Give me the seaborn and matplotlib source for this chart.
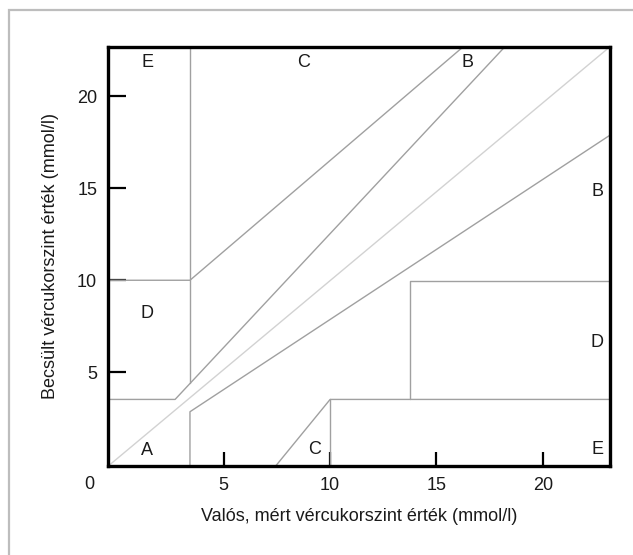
import numpy as np
import pandas as pd
import matplotlib
matplotlib.use("Agg")
import matplotlib.pyplot as plt
from matplotlib.patches import Rectangle
import seaborn as sns

# Zone boundaries (mmol/l)
upper_b_x = [-0.43, 2.71, 18.22]
upper_b_y = [3.51, 3.51, 22.69]
upper_c_x = [-0.43, 3.41, 16.26]
upper_c_y = [9.99, 9.99, 22.69]
left_vert_x = [3.41, 3.41]
left_vert_y = [4.40, 22.69]
lower_b_x = [3.41, 3.41, 23.16]
lower_b_y = [-0.11, 2.84, 17.88]
lower_c_x = [7.44, 10.0, 23.16]
lower_c_y = [-0.11, 3.51, 3.51]
mid_vert_x = [10.0, 10.0]
mid_vert_y = [-0.11, 3.51]
lower_d_x = [13.76, 13.76, 23.16]
lower_d_y = [3.51, 9.96, 9.96]
ident_x = [-0.43, 23.16]
ident_y = [-0.11, 22.69]

zone_labels = ["E", "C", "B", "B", "D", "D", "A", "C", "E"]
zone_label_x = [1.4, 8.74, 16.44, 22.55, 1.4, 22.55, 1.4, 9.26, 22.55]
zone_label_y = [21.85, 21.85, 21.85, 14.8, 8.2, 6.6, 0.75, 0.8, 0.8]

ticks = [5, 10, 15, 20]
x_label = "Valós, mért vércukorszint érték (mmol/l)"
y_label = "Becsült vércukorszint érték (mmol/l)"

segments = [
    (upper_b_x, upper_b_y), (upper_c_x, upper_c_y), (left_vert_x, left_vert_y),
    (lower_b_x, lower_b_y), (lower_c_x, lower_c_y), (mid_vert_x, mid_vert_y),
    (lower_d_x, lower_d_y),
]
rows = []
for i, (xs, ys) in enumerate(segments):
    for j, (x, y) in enumerate(zip(xs, ys)):
        rows.append({"x": x, "y": y, "seg": i, "order": j})
df = pd.DataFrame(rows)
df_ident = pd.DataFrame({"x": ident_x, "y": ident_y, "seg": 0})

sns.set_theme(style="white")
plt.rcParams["font.family"] = ["Liberation Sans", "DejaVu Sans"]

fig = plt.figure(figsize=(6.33, 5.55), dpi=100)
ax = fig.add_axes([108.3 / 633, 1 - 466 / 555, (610 - 108.3) / 633, (466 - 46.7) / 555])

sns.lineplot(data=df_ident, x="x", y="y", units="seg", estimator=None, sort=False,
             color="#d2d2d2", linewidth=1.0, ax=ax)
sns.lineplot(data=df, x="x", y="y", units="seg", estimator=None, sort=False,
             color="#a0a0a0", linewidth=1.0, ax=ax)

for lab, lx, ly in zip(zone_labels, zone_label_x, zone_label_y):
    ax.text(lx, ly, lab, ha="center", va="center", fontsize=13, color="#1a1a1a")

ax.set_xlim(ident_x[0], ident_x[1])
ax.set_ylim(ident_y[0], ident_y[1])
ax.set_xticks(ticks)
ax.set_yticks(ticks)
ax.set_xticklabels([str(t) for t in ticks])
ax.set_yticklabels([str(t) for t in ticks])
ax.tick_params(axis="x", direction="in", length=10, width=1.6, color="black",
               labelsize=13, pad=8, labelcolor="#1a1a1a", bottom=True)
ax.tick_params(axis="y", direction="in", length=13, width=1.6, color="black",
               labelsize=13, pad=8, labelcolor="#1a1a1a", left=True)
ax.set_xlabel(x_label, fontsize=13, color="#1a1a1a", labelpad=10)
ax.set_ylabel(y_label, fontsize=13, color="#1a1a1a", labelpad=13)
for sp in ax.spines.values():
    sp.set_visible(True)
    sp.set_color("black")
    sp.set_linewidth(2.4)
ax.grid(False)

# corner "0"
ax.text(-0.038, -0.045, "0", transform=ax.transAxes, ha="center", va="center",
        fontsize=13, color="#1a1a1a")

# light frame around the figure (open to the right and bottom)
fig.patches.append(Rectangle((9 / 633, -0.05), 1.1, 1 - 10 / 555 + 0.05,
                             transform=fig.transFigure, fill=False,
                             edgecolor="#bdbdbd", linewidth=1.6))

fig.savefig("out.png", dpi=100)
